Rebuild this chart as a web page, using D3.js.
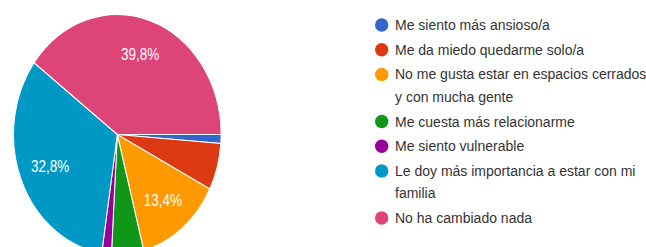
<!DOCTYPE html>
<html>
<head>
<meta charset="utf-8">
<script src="https://cdn.jsdelivr.net/npm/d3@7"></script>
<style>
  html, body { margin: 0; padding: 0; background: #fff; }
  svg { display: block; }
</style>
</head>
<body>
<svg id="chart" width="646" height="247"></svg>
<script>
const categories = [
  "Me siento más ansioso/a",
  "Me da miedo quedarme solo/a",
  "No me gusta estar en espacios cerrados\ny con mucha gente",
  "Me cuesta más relacionarme",
  "Me siento vulnerable",
  "Le doy más importancia a estar con mi\nfamilia",
  "No ha cambiado nada"
];
const values = [1.2, 6.3, 13.4, 5.0, 1.5, 32.8, 39.8];
const valueLabels = ["", "", "13,4%", "", "", "32,8%", "39,8%"];
const colors = ["#3366cc", "#dc3912", "#ff9900", "#109618", "#990099", "#0099c6", "#dd4477"];

const svg = d3.select("#chart");
const W = 646, H = 247;

// Pie (image is vertically stretched in the reference)
const cx = 117.3, cy = 134.5, r = 103.8, stretch = 1.156;
const pie = d3.pie().sort(null).value(d => d)
  .startAngle(Math.PI / 2).endAngle(Math.PI / 2 + 2 * Math.PI);
const arcs = pie(values);
const arc = d3.arc().innerRadius(0).outerRadius(r);
const labelArc = d3.arc().innerRadius(r * 0.7).outerRadius(r * 0.7);

const g = svg.append("g")
  .attr("transform", `translate(${cx},${cy}) scale(1,${stretch})`);

g.selectAll("path.slice").data(arcs).enter().append("path")
  .attr("class", "slice")
  .attr("d", arc)
  .attr("fill", (d, i) => colors[i])
  .attr("stroke", "#fff")
  .attr("stroke-width", 1);

g.selectAll("text.pl").data(arcs).enter().append("text")
  .attr("class", "pl")
  .attr("transform", d => `translate(${labelArc.centroid(d)})`)
  .attr("text-anchor", "middle")
  .attr("dy", "0.36em")
  .attr("font-family", "Arial, 'Liberation Sans', sans-serif")
  .attr("font-size", 13.5)
  .attr("fill", "#fff")
  .text((d, i) => valueLabels[i]);

// Legend
const legX = 381.7, textX = 395, firstY = 25, lineH = 22.4, gap = 2.3;
const leg = svg.append("g");
let y = firstY;
categories.forEach((c, i) => {
  const lines = c.split("\n");
  leg.append("circle")
    .attr("cx", legX).attr("cy", y).attr("r", 6.7)
    .attr("fill", colors[i]);
  const t = leg.append("text")
    .attr("x", textX).attr("y", y + 5)
    .attr("font-family", "Arial, 'Liberation Sans', sans-serif")
    .attr("font-size", 14)
    .attr("fill", "#333");
  lines.forEach((ln, j) => {
    t.append("tspan").attr("x", textX).attr("y", y + 5 + j * lineH).text(ln);
  });
  y += lines.length * lineH + gap;
});
</script>
</body>
</html>
